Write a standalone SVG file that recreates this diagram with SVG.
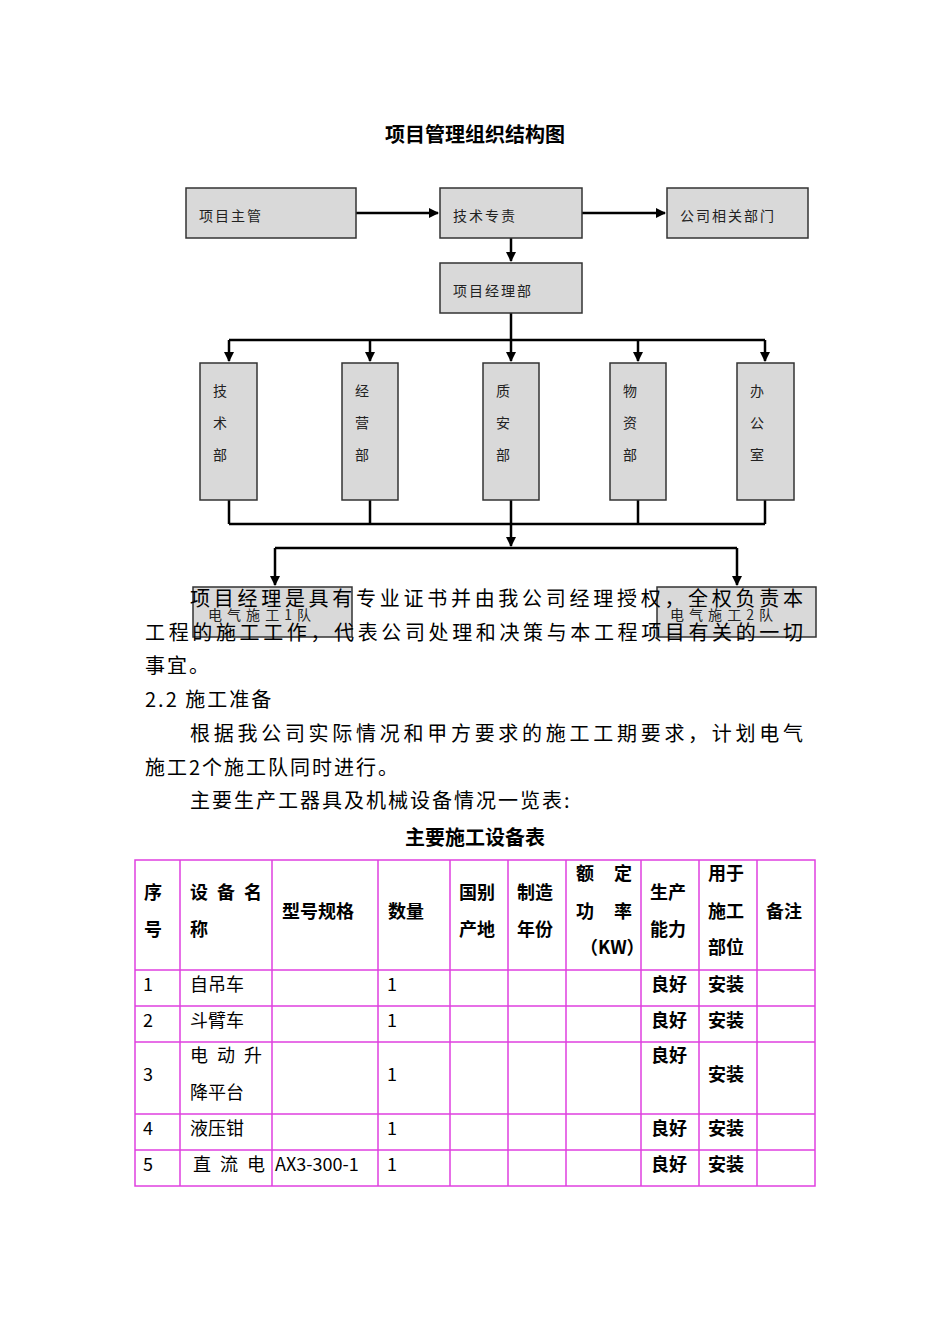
<svg xmlns="http://www.w3.org/2000/svg" width="950" height="1344" viewBox="0 0 950 1344">
<defs>
<style>
text{font-family:"Noto Sans CJK SC","Liberation Serif",serif;fill:#000}
.box{fill:#d9d9d9;stroke:#333;stroke-width:1.5}
.bl{font-size:14px;fill:#222;letter-spacing:2px}
.ln{stroke:#000;stroke-width:2.5;fill:none}
.body{font-size:20px;letter-spacing:2px}
.tb{stroke:#e040e0;stroke-width:1.5;fill:none}
.th{font-size:18px;font-weight:bold}
.td{font-size:18px}
</style>
<marker id="ar" markerWidth="10" markerHeight="10" refX="9" refY="5" orient="auto" markerUnits="userSpaceOnUse"><path d="M0,0L10,5L0,10z" fill="#000"/></marker>
</defs>
<rect width="950" height="1344" fill="#fff"/>
<text x="475" y="142" text-anchor="middle" font-size="20" font-weight="bold">项目管理组织结构图</text>
<g id="connectors">
<line class="ln" x1="356" y1="213" x2="438" y2="213" marker-end="url(#ar)"/>
<line class="ln" x1="582" y1="213" x2="665" y2="213" marker-end="url(#ar)"/>
<line class="ln" x1="511" y1="238" x2="511" y2="261" marker-end="url(#ar)"/>
<line class="ln" x1="511" y1="313" x2="511" y2="340"/>
<line class="ln" x1="229" y1="340" x2="765" y2="340"/>
<line class="ln" x1="229" y1="340" x2="229" y2="361" marker-end="url(#ar)"/>
<line class="ln" x1="370" y1="340" x2="370" y2="361" marker-end="url(#ar)"/>
<line class="ln" x1="511" y1="340" x2="511" y2="361" marker-end="url(#ar)"/>
<line class="ln" x1="638" y1="340" x2="638" y2="361" marker-end="url(#ar)"/>
<line class="ln" x1="765" y1="340" x2="765" y2="361" marker-end="url(#ar)"/>
<path class="ln" d="M229,500V524M370,500V524M511,500V524M638,500V524M765,500V524M229,524H765"/>
<line class="ln" x1="511" y1="524" x2="511" y2="546" marker-end="url(#ar)"/>
<line class="ln" x1="275" y1="548" x2="737" y2="548"/>
<line class="ln" x1="275" y1="548" x2="275" y2="585" marker-end="url(#ar)"/>
<line class="ln" x1="737" y1="548" x2="737" y2="585" marker-end="url(#ar)"/>
</g>
<g id="n1"><rect class="box" x="186" y="188" width="170" height="50"/><text class="bl" x="199" y="221">项目主管</text></g>
<g id="n2"><rect class="box" x="440" y="188" width="142" height="50"/><text class="bl" x="453" y="221">技术专责</text></g>
<g id="n3"><rect class="box" x="667" y="188" width="141" height="50"/><text class="bl" x="680" y="221">公司相关部门</text></g>
<g id="n4"><rect class="box" x="440" y="263" width="142" height="50"/><text class="bl" x="453" y="296">项目经理部</text></g>
<g id="d1"><rect class="box" x="200" y="363" width="57" height="137"/><text class="bl" x="213" y="396">技</text><text class="bl" x="213" y="428">术</text><text class="bl" x="213" y="460">部</text></g>
<g id="d2"><rect class="box" x="342" y="363" width="56" height="137"/><text class="bl" x="355" y="396">经</text><text class="bl" x="355" y="428">营</text><text class="bl" x="355" y="460">部</text></g>
<g id="d3"><rect class="box" x="483" y="363" width="56" height="137"/><text class="bl" x="496" y="396">质</text><text class="bl" x="496" y="428">安</text><text class="bl" x="496" y="460">部</text></g>
<g id="d4"><rect class="box" x="610" y="363" width="56" height="137"/><text class="bl" x="623" y="396">物</text><text class="bl" x="623" y="428">资</text><text class="bl" x="623" y="460">部</text></g>
<g id="d5"><rect class="box" x="737" y="363" width="57" height="137"/><text class="bl" x="750" y="396">办</text><text class="bl" x="750" y="428">公</text><text class="bl" x="750" y="460">室</text></g>
<g id="t1"><rect class="box" x="193" y="587" width="159" height="50"/><text class="bl" x="208" y="620" textLength="105" lengthAdjust="spacing">电气施工1队</text></g>
<g id="t2"><rect class="box" x="657" y="587" width="159" height="50"/><text class="bl" x="670" y="620" textLength="105" lengthAdjust="spacing">电气施工2队</text></g>
<text class="body" x="190" y="606" textLength="615" lengthAdjust="spacing">项目经理是具有专业证书并由我公司经理授权，全权负责本</text>
<text class="body" x="145" y="640" textLength="660" lengthAdjust="spacing">工程的施工工作，代表公司处理和决策与本工程项目有关的一切</text>
<text class="body" x="145" y="673">事宜。</text>
<text class="body" x="145" y="707">2.2 施工准备</text>
<text class="body" x="190" y="741" textLength="615" lengthAdjust="spacing">根据我公司实际情况和甲方要求的施工工期要求，计划电气</text>
<text class="body" x="145" y="775">施工2个施工队同时进行。</text>
<text class="body" x="190" y="808">主要生产工器具及机械设备情况一览表:</text>
<text x="475" y="845" text-anchor="middle" font-size="20" font-weight="bold">主要施工设备表</text>
<g id="table">
<rect class="tb" x="135" y="860" width="680" height="326"/>
<path class="tb" d="M180,860V1186M272,860V1186M378,860V1186M450,860V1186M508,860V1186M566,860V1186M641,860V1186M699,860V1186M757,860V1186M135,970H815M135,1006H815M135,1042H815M135,1114H815M135,1150H815"/>
<text class="th" x="144" y="899">序</text><text class="th" x="144" y="936">号</text>
<text class="th" x="190" y="899" textLength="72">设备名</text><text class="th" x="190" y="936">称</text>
<text class="th" x="282" y="918">型号规格</text>
<text class="th" x="388" y="918">数量</text>
<text class="th" x="459" y="899">国别</text><text class="th" x="459" y="936">产地</text>
<text class="th" x="517" y="899">制造</text><text class="th" x="517" y="936">年份</text>
<text class="th" x="576" y="880" textLength="56">额定</text><text class="th" x="576" y="918" textLength="56">功率</text><text class="th" x="580" y="954">（KW）</text>
<text class="th" x="650" y="899">生产</text><text class="th" x="650" y="936">能力</text>
<text class="th" x="708" y="880">用于</text><text class="th" x="708" y="918">施工</text><text class="th" x="708" y="954">部位</text>
<text class="th" x="766" y="918">备注</text>
<text class="td" x="143" y="991">1</text><text class="td" x="190" y="991">自吊车</text><text class="td" x="387" y="991">1</text><text class="th" x="651" y="991">良好</text><text class="th" x="708" y="991">安装</text>
<text class="td" x="143" y="1027">2</text><text class="td" x="190" y="1027">斗臂车</text><text class="td" x="387" y="1027">1</text><text class="th" x="651" y="1027">良好</text><text class="th" x="708" y="1027">安装</text>
<text class="td" x="143" y="1081">3</text><text class="td" x="190" y="1062" textLength="72">电动升</text><text class="td" x="190" y="1099">降平台</text><text class="td" x="387" y="1081">1</text><text class="th" x="651" y="1062">良好</text><text class="th" x="708" y="1081">安装</text>
<text class="td" x="143" y="1135">4</text><text class="td" x="190" y="1135">液压钳</text><text class="td" x="387" y="1135">1</text><text class="th" x="651" y="1135">良好</text><text class="th" x="708" y="1135">安装</text>
<text class="td" x="143" y="1171">5</text><text class="td" x="193" y="1171" textLength="72">直流电</text><text class="td" x="275" y="1171" font-size="16">AX3-300-1</text><text class="td" x="387" y="1171">1</text><text class="th" x="651" y="1171">良好</text><text class="th" x="708" y="1171">安装</text>
</g>
</svg>
